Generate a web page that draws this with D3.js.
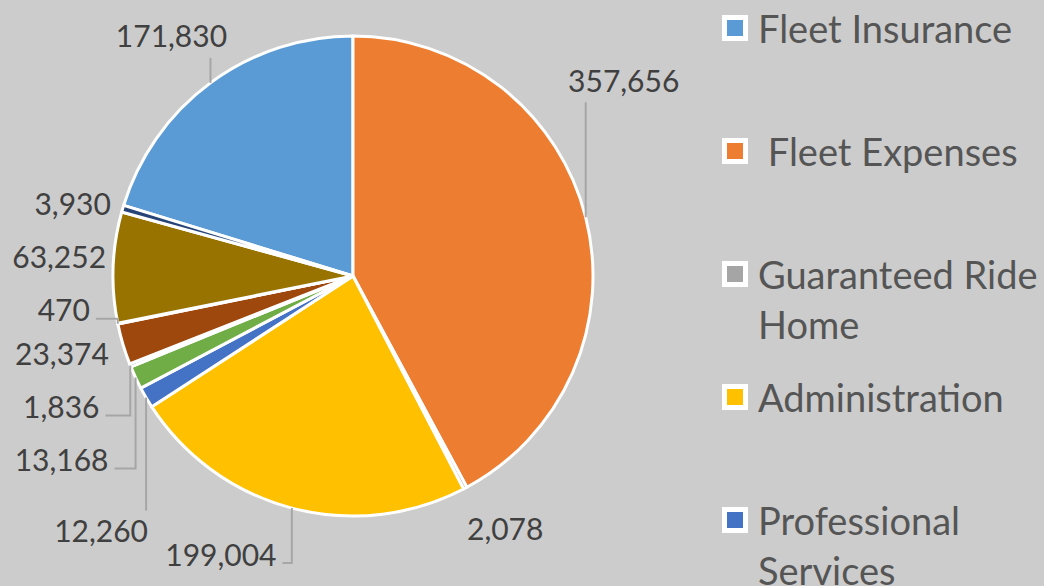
<!DOCTYPE html>
<html>
<head>
<meta charset="utf-8">
<script src="https://cdn.jsdelivr.net/npm/d3@7"></script>
<style>
  html, body { margin: 0; padding: 0; background: #cccccc; }
  svg { display: block; }
</style>
</head>
<body>
<svg id="chart"></svg>
<script>
// data (legend shows only the first five names)
var categories = ["Fleet Insurance", " Fleet Expenses", "Guaranteed Ride Home", "Administration",
                  "Professional Services", "Category 6", "Category 7", "Category 8",
                  "Category 9", "Category 10", "Category 11"];
var values = [171830, 357656, 2078, 199004, 12260, 13168, 1836, 23374, 470, 63252, 3930];
var colors = ["#5b9bd5", "#ed7d31", "#a5a5a5", "#ffc000", "#4472c4", "#70ad47",
              "#255e91", "#9e480e", "#636363", "#997300", "#264478"];
var legendCount = 5;

// label nudges (label centre relative to the slice's outer edge point)
var labelNudge = [[-39, -46], [38, -136], [40, 41], [-71, 47], [-45, 134], [-74, 83],
                  [-69, 42], [-61, 10], [-54, -13], [-54, -10], [-50, -4]];

var width = 1044, height = 586;
var cx = 353, cy = 276, R = 240;

var svg = d3.select("#chart").attr("width", width).attr("height", height);
svg.append("rect").attr("width", width).attr("height", height).attr("fill", "#cccccc");

var data = categories.map(function(c, i) { return {name: c, v: values[i], color: colors[i], i: i}; });
var total = d3.sum(values);
var start = -2 * Math.PI * values[0] / total;

var pie = d3.pie().sort(null).value(function(d) { return d.v; })
            .startAngle(start).endAngle(start + 2 * Math.PI);
var arc = d3.arc().innerRadius(0).outerRadius(R);
var arcs = pie(data);

var g = svg.append("g").attr("transform", "translate(" + cx + "," + cy + ")");

g.selectAll("path.slice")
  .data(arcs)
  .join("path")
  .attr("class", "slice")
  .attr("d", arc)
  .attr("fill", function(d) { return d.data.color; })
  .attr("stroke", "#ffffff")
  .attr("stroke-width", 3)
  .attr("stroke-linejoin", "round");

var fmt = d3.format(",");
function edge(d) {
  var a = (d.startAngle + d.endAngle) / 2;
  return [R * Math.sin(a), -R * Math.cos(a)];
}

var leaders = g.append("g");
var labels = g.selectAll("text.lbl")
  .data(arcs)
  .join("text")
  .attr("class", "lbl")
  .attr("x", function(d) { return edge(d)[0] + labelNudge[d.data.i][0]; })
  .attr("y", function(d) { return edge(d)[1] + labelNudge[d.data.i][1]; })
  .attr("dy", "0.35em")
  .attr("text-anchor", "middle")
  .attr("font-family", "Lato, 'Open Sans', sans-serif")
  .attr("font-size", 30)
  .attr("fill", "#404040")
  .text(function(d) { return fmt(d.data.v); });

// leader lines
var h = 11;
labels.each(function(d) {
  var e = edge(d);
  var lx = +this.getAttribute("x"), ly = +this.getAttribute("y");
  var w = this.getComputedTextLength();
  var left = lx - w / 2, right = lx + w / 2;
  var pts = null;
  if (e[0] >= left && e[0] <= right) {
    if (ly + h < e[1] && e[1] - (ly + h) > 32) pts = [e, [e[0], ly + h + 10]];
    else if (ly - h > e[1] && (ly - h) - e[1] > 32) pts = [e, [e[0], ly - h - 10]];
  } else if (right < e[0] && (e[0] - right > 20 || Math.abs(ly - e[1]) > 32)) {
    pts = [e, [e[0], ly + 8], [right + 6, ly + 8]];
  }
  if (pts) {
    leaders.append("polyline")
      .attr("points", pts.map(function(p) { return p.join(","); }).join(" "))
      .attr("fill", "none")
      .attr("stroke", "#a6a6a6")
      .attr("stroke-width", 2);
  }
});

// legend
var legX = 722, legY = 15, rowH = 123, lineH = 50;
var legend = svg.append("g");
data.slice(0, legendCount).forEach(function(d, i) {
  var y0 = legY + i * rowH;
  legend.append("rect")
    .attr("x", legX + 2.5).attr("y", y0 + 2.5)
    .attr("width", 21).attr("height", 21)
    .attr("fill", d.color)
    .attr("stroke", "#ffffff")
    .attr("stroke-width", 5);
  var t = legend.append("text")
    .attr("x", legX + 36).attr("y", y0 + 28)
    .attr("font-family", "Lato, 'Open Sans', sans-serif")
    .attr("font-size", 38)
    .attr("fill", "#555555")
    .style("white-space", "pre");
  // wrap words to the space left of the edge
  var maxW = width - (legX + 36) + 4;
  var words = d.name.split(" ").filter(function(w) { return w.length; });
  var lead = d.name.charAt(0) === " " ? " " : "";
  var line = [], span = t.append("tspan").attr("x", legX + 36).text(lead);
  words.forEach(function(w) {
    line.push(w);
    span.text(lead + line.join(" "));
    if (span.node().getComputedTextLength() > maxW && line.length > 1) {
      line.pop();
      span.text(lead + line.join(" "));
      line = [w];
      lead = "";
      span = t.append("tspan").attr("x", legX + 36).attr("dy", lineH).text(w);
    }
  });
});
</script>
</body>
</html>
